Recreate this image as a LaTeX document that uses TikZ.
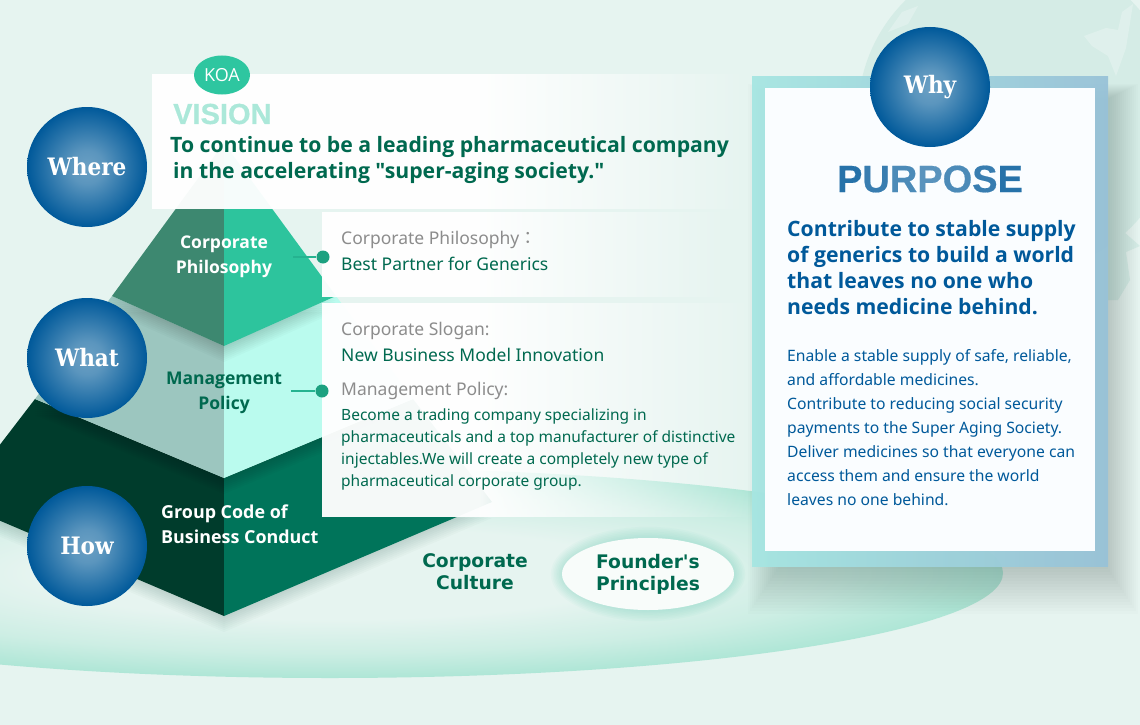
\documentclass[tikz,border=0pt]{standalone}
\usepackage{fontspec}
\usetikzlibrary{fadings,shapes.geometric}
\setmainfont{Noto Sans}
\newfontfamily\headfont{Open Sans}
\newfontfamily\ballfont{DejaVu Serif Condensed}
\newfontfamily\heavyfont[FakeBold=0.5]{Liberation Sans}
\newfontfamily\wideboldfont{DejaVu Sans}
\newfontfamily\cjk{Noto Sans CJK JP}
\definecolor{mistbg}{HTML}{E6F4F0}
\definecolor{globeteal}{HTML}{D5ECE6}
\definecolor{deepgreen}{HTML}{00694F}
\definecolor{koateal}{HTML}{2EC6A0}
\definecolor{purposeblue}{HTML}{00599A}
\definecolor{ballmid}{HTML}{6BA0C4}
\definecolor{ringmid}{HTML}{CDEEE4}
\definecolor{ringout}{HTML}{AEE6D6}
\definecolor{topleft}{HTML}{3D8870}
\definecolor{topright}{HTML}{2DC49D}
\definecolor{midleft}{HTML}{9CC6BF}
\definecolor{midright}{HTML}{BAFBEE}
\definecolor{lowleft}{HTML}{003C2C}
\definecolor{lowright}{HTML}{00745A}
\definecolor{frameleft}{HTML}{A6E6E2}
\definecolor{frameright}{HTML}{98C2D8}
\pgfdeclareradialshading{ball glow}{\pgfpoint{0bp}{0bp}}{color(0bp)=(ballmid); color(7bp)=(ballmid!85!purposeblue); color(25bp)=(purposeblue); color(50bp)=(purposeblue)}
\pgfdeclareradialshading{ring glow}{\pgfpoint{0bp}{0bp}}{color(0bp)=(mistbg); color(11bp)=(mistbg); color(19bp)=(ringmid); color(25bp)=(ringout); color(50bp)=(ringout)}
\tikzfading[name=panel ramp, left color=transparent!4, right color=transparent!100]

\begin{document}
\begin{tikzpicture}[x=1pt,y=-1pt,
    ball node/.style={circle,minimum size=120pt,inner sep=0pt,shading=ball glow,text=white,font=\ballfont\bfseries\fontsize{24}{24}\selectfont},
    tier label/.style={align=center,font=\headfont\bfseries\fontsize{17.5}{25}\selectfont},
    culture label/.style={align=center,text=deepgreen,font=\wideboldfont\bfseries\fontsize{18.7}{22}\selectfont},
    head label/.style={anchor=west,inner sep=0pt,text=black!45,font=\fontsize{17.5}{20}\selectfont},
    body label/.style={anchor=west,inner sep=0pt,text=deepgreen},
    dot node/.style={circle,minimum size=13pt,inner sep=0pt,fill=koateal!60!deepgreen},
    link line/.style={line width=1.6pt,draw=koateal!80!deepgreen},
    panel solid/.style={white,fill opacity=.96},
    panel fade/.style={white,path fading=panel ramp}]

  \useasboundingbox (0,0) rectangle (1140,725);
  \clip (0,0) rectangle (1140,725);
  \fill[mistbg] (0,0) rectangle (1140,725);

  \fill[globeteal] (1018,114) circle (160pt);
  \fill[mistbg,opacity=.6] (1084,36) -- (1106,28) -- (1118,30) -- (1122,12) -- (1133,4) -- (1126,48) -- (1116,76) -- (1108,56) -- (1092,46) -- cycle;
  \fill[mistbg,opacity=.6] (888,32) -- (902,12) -- (918,6) -- (908,24) -- cycle;
  \fill[globeteal] (1108,228) -- (1124,232) -- (1140,246) -- (1126,252) -- (1130,280) -- (1118,300) -- (1108,300) -- cycle;

  \shade[shading=ring glow] (330,573) ellipse (673pt and 105pt);

  \foreach \i in {1,...,8}
    \fill[black!60!deepgreen,opacity=.02] (224,{616+2*\i}) -- (492,{502+2*\i}) -- (-44,{502+2*\i}) -- cycle;

  \fill[lowleft] (35,399) -- (224,478) -- (224,616) -- (-44,502) -- cycle;
  \fill[lowright] (413,399) -- (224,478) -- (224,616) -- (492,502) -- cycle;

  \foreach \i in {1,...,8}
    \fill[black,opacity=.02] (35,{399+2*\i}) -- (224,{478+2*\i}) -- (413,{399+2*\i}) -- cycle;

  \fill[midleft] (112,296) -- (224,346) -- (224,478) -- (35,399) -- cycle;
  \fill[midright] (336,296) -- (224,346) -- (224,478) -- (413,399) -- cycle;

  \foreach \i in {1,...,8}
    \fill[black,opacity=.02] (112,{296+2*\i}) -- (224,{346+2*\i}) -- (336,{296+2*\i}) -- cycle;

  \fill[topleft] (224,143) -- (224,346) -- (112,296) -- cycle;
  \fill[topright] (224,143) -- (224,346) -- (336,296) -- cycle;

  \fill[panel solid] (152,74) rectangle (480,209);
  \fill[panel fade] (480,74) rectangle (750,209);
  \fill[panel solid] (322,212) rectangle (480,297);
  \fill[panel fade] (480,212) rectangle (730,297);
  \fill[panel solid] (322,303) rectangle (480,517);
  \fill[panel fade] (480,303) rectangle (755,517);

  \foreach \i in {1,...,16}
    \fill[black!70!deepgreen,opacity=.012] ({780-2*\i},{100-\i}) rectangle ({1106+2*\i},{566+3*\i});
  \shade[left color=frameleft,right color=frameright,opacity=.95] (752,76) rectangle (1108,566);
  \fill[white!98!cyan] (765,88) rectangle (1095,551);

  \node[ball node] (where) at (87,167) {Where};
  \node[ball node] (what) at (87,358) {What};
  \node[ball node] (how) at (87,546) {How};
  \node[ball node] (why) at (930,87) {Why};

  \node[ellipse,fill=koateal,minimum width=56pt,minimum height=39pt,inner sep=0pt,text=white,font=\headfont\fontsize{18}{18}\selectfont] (koa) at (222,75) {KOA};
  \node[anchor=west,inner sep=0pt,text=koateal!40!white,font=\heavyfont\bfseries\fontsize{29}{29}\selectfont] (vision) at (173,114) {VISION};
  \node[anchor=north west,inner sep=0pt,align=left,text=deepgreen,font=\headfont\bfseries\fontsize{21.2}{26}\selectfont] (visiontext) at (170,136) {To continue to be a leading pharmaceutical company\\\hspace*{3pt}in the accelerating "super-aging society."};

  \node[tier label,text=white] (philosophy) at (224,257) {Corporate\\Philosophy};
  \node[tier label,text=deepgreen] (management) at (224,393) {Management\\Policy};
  \node[tier label,text=white,anchor=west,align=left,inner sep=0pt,font=\headfont\bfseries\fontsize{17.9}{25}\selectfont] (conduct) at (161,524) {Group Code of\\Business Conduct};

  \node[dot node] (dotphilosophy) at (323,257) {};
  \node[dot node] (dotpolicy) at (322,391) {};
  \coordinate (startphilosophy) at (293,257);
  \coordinate (startpolicy) at (291,391);
  \path[link line] (startphilosophy) edge (dotphilosophy) (startpolicy) edge (dotpolicy);

  \node[head label] (philosophyhead) at (341,240) {Corporate Philosophy{\cjk ：}};
  \node[body label,font=\fontsize{17.5}{20}\selectfont] (philosophytext) at (341,264) {Best Partner for Generics};
  \node[head label] (sloganhead) at (341,331) {Corporate Slogan:};
  \node[body label,font=\fontsize{17.5}{20}\selectfont] (slogantext) at (341,355) {New Business Model Innovation};
  \node[head label] (policyhead) at (341,391) {Management Policy:};
  \node[body label,anchor=north west,align=left,font=\fontsize{15.5}{22}\selectfont] (policytext) at (341,409) {Become a trading company specializing in\\pharmaceuticals and a top manufacturer of distinctive\\injectables.We will create a completely new type of\\pharmaceutical corporate group.};

  \node[culture label] (culture) at (475,572) {Corporate\\Culture};
  \foreach \i in {1,...,7}
    \fill[koateal,opacity=.03] (648,574) ellipse ({86+1.6*\i} and {36+1.6*\i});
  \node[ellipse,fill=white!70!mistbg,minimum width=172pt,minimum height=72pt,inner sep=0pt,culture label] (founder) at (648,574) {Founder's\\Principles};

  \node[anchor=center,inner sep=0pt,font=\heavyfont\bfseries\fontsize{38}{38}\selectfont] (purpose) at (930,179) {\textcolor{purposeblue!85!white}{P}\textcolor{purposeblue!78!white}{U}\textcolor{purposeblue!70!white}{R}\textcolor{purposeblue!65!white}{P}\textcolor{purposeblue!70!white}{O}\textcolor{purposeblue!78!white}{S}\textcolor{purposeblue!85!white}{E}};
  \node[anchor=north west,inner sep=0pt,align=left,text=purposeblue,font=\headfont\bfseries\fontsize{21.2}{26}\selectfont] (purposetext) at (787,220) {Contribute to stable supply\\of generics to build a world\\that leaves no one who\\needs medicine behind.};
  \node[anchor=north west,inner sep=0pt,align=left,text=purposeblue,font=\fontsize{15.7}{24}\selectfont] (purposebody) at (787,349) {Enable a stable supply of safe, reliable,\\and affordable medicines.\\Contribute to reducing social security\\payments to the Super Aging Society.\\Deliver medicines so that everyone can\\access them and ensure the world\\leaves no one behind.};
\end{tikzpicture}
\end{document}
